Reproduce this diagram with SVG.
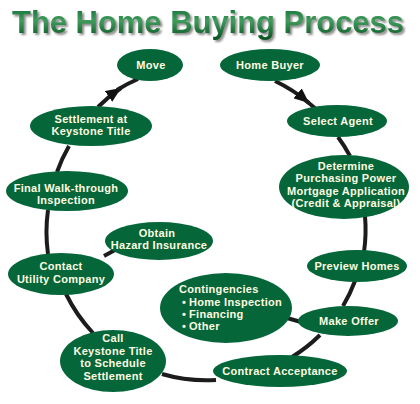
<svg xmlns="http://www.w3.org/2000/svg" width="420" height="404" viewBox="0 0 420 404">
<defs>
<linearGradient id="tg" x1="0" y1="0" x2="0" y2="1">
<stop offset="0" stop-color="#0b6a33"/>
<stop offset="0.45" stop-color="#3f9c5c"/>
<stop offset="1" stop-color="#05501f"/>
</linearGradient>
<filter id="sh" x="-5%" y="-20%" width="110%" height="150%">
<feGaussianBlur in="SourceAlpha" stdDeviation="1"/>
<feOffset dx="2" dy="2" result="b"/>
<feFlood flood-color="#8a8a8a"/>
<feComposite in2="b" operator="in" result="s"/>
<feMerge><feMergeNode in="s"/><feMergeNode in="SourceGraphic"/></feMerge>
</filter>
<marker id="ah" markerUnits="userSpaceOnUse" markerWidth="16" markerHeight="13" refX="15" refY="6.5" orient="auto"><path d="M0,0 L15,6.5 L0,13 z" fill="#111"/></marker>
<style>
.n ellipse{fill:#05663a;}
.n text{font-family:"Liberation Sans",Arial,sans-serif;font-weight:bold;font-size:11px;letter-spacing:0.3px;fill:#fffbe0;text-anchor:middle;}
.n text.l{text-anchor:start;}
.c path{fill:none;stroke:#1c1c1c;stroke-width:4;stroke-linecap:butt;}
</style>
</defs>
<rect width="420" height="404" fill="#fff"/>
<g id="title" font-family="'Liberation Sans',Arial,sans-serif" font-weight="bold" font-size="31">
<text x="12" y="33" textLength="392" fill="url(#tg)" filter="url(#sh)">The Home Buying Process</text>
</g>
<g id="connectors" class="c">
<path d="M275,81 A158,158 0 0 1 309,103" marker-end="url(#ah)"/>
<path d="M305,100 A158,158 0 0 1 317,110"/>
<path d="M338,137 A158,158 0 0 1 350,156"/>
<path d="M364,252 A158,158 0 0 0 365,216"/>
<path d="M355,281 A158,158 0 0 1 343,306"/>
<path d="M320,335 A158,158 0 0 1 292,357"/>
<path d="M216,380 A158,158 0 0 1 162,374"/>
<path d="M93,333 A158,158 0 0 1 66,294"/>
<path d="M48,254 A158,158 0 0 1 48,210"/>
<path d="M57,172 A158,158 0 0 1 69,146"/>
<path d="M98,107 A158,158 0 0 1 121,88" marker-end="url(#ah)"/>
<path d="M117,90 A158,158 0 0 1 138,79"/>
<path d="M287,318 L301,322"/>
<path d="M104,256 L115,250"/>
</g>
<g id="home-buyer" class="n"><ellipse cx="270" cy="65" rx="50" ry="16"/><text x="270" y="69">Home Buyer</text></g>
<g id="select-agent" class="n"><ellipse cx="337" cy="121" rx="50" ry="16"/><text x="338" y="125">Select Agent</text></g>
<g id="determine" class="n"><ellipse cx="344" cy="187" rx="65" ry="32"/>
<text x="346" y="170">Determine</text><text x="346" y="182">Purchasing Power</text><text x="346" y="195">Mortgage Application</text><text x="346" y="207">(Credit &amp; Appraisal)</text></g>
<g id="preview-homes" class="n"><ellipse cx="357" cy="266" rx="50" ry="16"/><text x="357" y="270">Preview Homes</text></g>
<g id="make-offer" class="n"><ellipse cx="348" cy="321" rx="50" ry="15"/><text x="349" y="325">Make Offer</text></g>
<g id="contingencies" class="n"><ellipse cx="226" cy="308" rx="66" ry="35"/>
<text class="l" x="179" y="293">Contingencies</text>
<text class="l" x="182" y="306">•</text><text class="l" x="189" y="306">Home Inspection</text>
<text class="l" x="182" y="318">•</text><text class="l" x="189" y="318">Financing</text>
<text class="l" x="182" y="330">•</text><text class="l" x="189" y="330">Other</text></g>
<g id="contract-acceptance" class="n"><ellipse cx="280" cy="371" rx="67" ry="16"/><text x="280" y="375">Contract Acceptance</text></g>
<g id="call-keystone" class="n"><ellipse cx="113" cy="361" rx="53" ry="31"/>
<text x="113" y="342">Call</text><text x="113" y="355">Keystone Title</text><text x="113" y="367">to Schedule</text><text x="113" y="380">Settlement</text></g>
<g id="contact-utility" class="n"><ellipse cx="61" cy="274" rx="53" ry="21"/><text x="61" y="270">Contact</text><text x="61" y="283">Utility Company</text></g>
<g id="hazard-insurance" class="n"><ellipse cx="159" cy="241" rx="54" ry="19"/><text x="157" y="237">Obtain</text><text x="159" y="249">Hazard Insurance</text></g>
<g id="final-walkthrough" class="n"><ellipse cx="67" cy="191" rx="61" ry="20"/><text x="66" y="192">Final Walk-through</text><text x="66" y="204">Inspection</text></g>
<g id="settlement" class="n"><ellipse cx="91" cy="126" rx="61" ry="20"/><text x="91" y="123">Settlement at</text><text x="91" y="135">Keystone Title</text></g>
<g id="move" class="n"><ellipse cx="150" cy="65" rx="33" ry="16"/><text x="151" y="69">Move</text></g>
</svg>
